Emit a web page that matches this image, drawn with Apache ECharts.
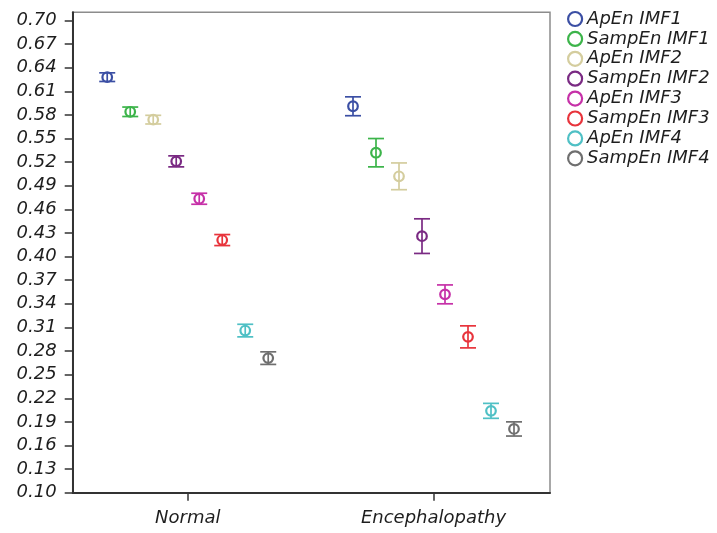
<!DOCTYPE html>
<html>
<head>
<meta charset="utf-8">
<script src="https://cdn.jsdelivr.net/npm/echarts@6/dist/echarts.min.js"></script>
<style>
html,body{margin:0;padding:0;background:#fff;}
#chart{width:717px;height:533px;}
</style>
</head>
<body>
<div id="chart"></div>
<script>
// ---- data ----
var categories = ['Normal', 'Encephalopathy'];
var seriesNames = ['ApEn IMF1', 'SampEn IMF1', 'ApEn IMF2', 'SampEn IMF2', 'ApEn IMF3', 'SampEn IMF3', 'ApEn IMF4', 'SampEn IMF4'];
// mean values per category [Normal, Encephalopathy]
var apEnIMF1 = [0.628, 0.591];
var sampEnIMF1 = [0.584, 0.532];
var apEnIMF2 = [0.574, 0.502];
var sampEnIMF2 = [0.521, 0.426];
var apEnIMF3 = [0.4735, 0.352];
var sampEnIMF3 = [0.421, 0.298];
var apEnIMF4 = [0.306, 0.204];
var sampEnIMF4 = [0.271, 0.181];
// error half-widths per category [Normal, Encephalopathy]
var errApEnIMF1 = [0.0055, 0.012];
var errSampEnIMF1 = [0.006, 0.018];
var errApEnIMF2 = [0.0055, 0.017];
var errSampEnIMF2 = [0.007, 0.022];
var errApEnIMF3 = [0.007, 0.012];
var errSampEnIMF3 = [0.007, 0.014];
var errApEnIMF4 = [0.008, 0.0095];
var errSampEnIMF4 = [0.008, 0.009];
var yTickValues = [0.10, 0.13, 0.16, 0.19, 0.22, 0.25, 0.28, 0.31, 0.34, 0.37, 0.40, 0.43, 0.46, 0.49, 0.52, 0.55, 0.58, 0.61, 0.64, 0.67, 0.70];

var means = [apEnIMF1, sampEnIMF1, apEnIMF2, sampEnIMF2, apEnIMF3, sampEnIMF3, apEnIMF4, sampEnIMF4];
var errs = [errApEnIMF1, errSampEnIMF1, errApEnIMF2, errSampEnIMF2, errApEnIMF3, errSampEnIMF3, errApEnIMF4, errSampEnIMF4];
var colors = ['#3b4fa4', '#3cb44a', '#d4cd9e', '#7a2a83', '#c631a8', '#e8343c', '#4fc0c5', '#6f6f6f'];

var FONT = 'DejaVu Sans';
var DODGE = 23;   // px between series within a group
var CAP = 8;      // cap half-width px
var R = 4.8;      // circle radius px

var chart = echarts.init(document.getElementById('chart'), null, {renderer: 'canvas'});

var series = seriesNames.map(function (name, si) {
  var data = categories.map(function (c, ci) {
    return [ci + 1, means[si][ci], errs[si][ci]];
  });
  return {
    name: name,
    type: 'custom',
    itemStyle: {color: colors[si]},
    data: data,
    encode: {x: 0, y: 1},
    renderItem: function (params, api) {
      var cx = api.value(0), m = api.value(1), e = api.value(2);
      var pc = api.coord([cx, m]);
      var ph = api.coord([cx, m + e]);
      var pl = api.coord([cx, m - e]);
      var x = pc[0] + (si - 3.5) * DODGE;
      var st = {stroke: colors[si], lineWidth: 1.7, fill: null};
      return {
        type: 'group',
        children: [
          {type: 'line', shape: {x1: x, y1: ph[1], x2: x, y2: pl[1]}, style: st},
          {type: 'line', shape: {x1: x - CAP, y1: ph[1], x2: x + CAP, y2: ph[1]}, style: st},
          {type: 'line', shape: {x1: x - CAP, y1: pl[1], x2: x + CAP, y2: pl[1]}, style: st},
          {type: 'circle', shape: {cx: x, cy: pc[1], r: R}, style: {stroke: colors[si], lineWidth: 2.2, fill: 'rgba(255,255,255,0)'}}
        ]
      };
    }
  };
});

var option = {
  backgroundColor: '#ffffff',
  animation: false,
  grid: {
    left: 72.7, right: 167, top: 12.3, bottom: 40.3,
    show: true, borderColor: '#8c8c8c', borderWidth: 1.5, backgroundColor: 'transparent'
  },
  legend: {
    orient: 'vertical',
    left: 562, top: 5,
    itemWidth: 14, itemHeight: 14, itemGap: 1.9,
    textStyle: {fontFamily: FONT, fontStyle: 'italic', fontSize: 18, color: '#1e1e1e', lineHeight: 18, padding: [0, 0, 0, 0]},
    data: seriesNames.map(function (n, i) {
      return {name: n, icon: 'circle', itemStyle: {color: '#fff', borderColor: colors[i], borderWidth: 2.2}};
    })
  },
  xAxis: {
    type: 'value',
    min: 0.532, max: 2.474,
    splitLine: {show: false},
    axisLine: {show: true, onZero: false, lineStyle: {color: '#333', width: 2}},
    axisTick: {show: true, customValues: [1, 2], length: 8, lineStyle: {color: '#333', width: 1.5}},
    axisLabel: {
      customValues: [1, 2], margin: 17,
      fontFamily: FONT, fontStyle: 'italic', fontSize: 18, color: '#1e1e1e',
      formatter: function (v) { return categories[Math.round(v) - 1] || ''; }
    }
  },
  yAxis: {
    type: 'value',
    min: 0.10, max: 0.7104,
    splitLine: {show: false},
    axisLine: {show: true, onZero: false, lineStyle: {color: '#333', width: 2}},
    axisTick: {show: true, customValues: yTickValues, length: 8, lineStyle: {color: '#333', width: 1.5}},
    axisLabel: {
      customValues: yTickValues, margin: 16,
      fontFamily: FONT, fontStyle: 'italic', fontSize: 18, color: '#1e1e1e',
      formatter: function (v) { return v.toFixed(2); }
    }
  },
  series: series
};
chart.setOption(option);
</script>
</body>
</html>
